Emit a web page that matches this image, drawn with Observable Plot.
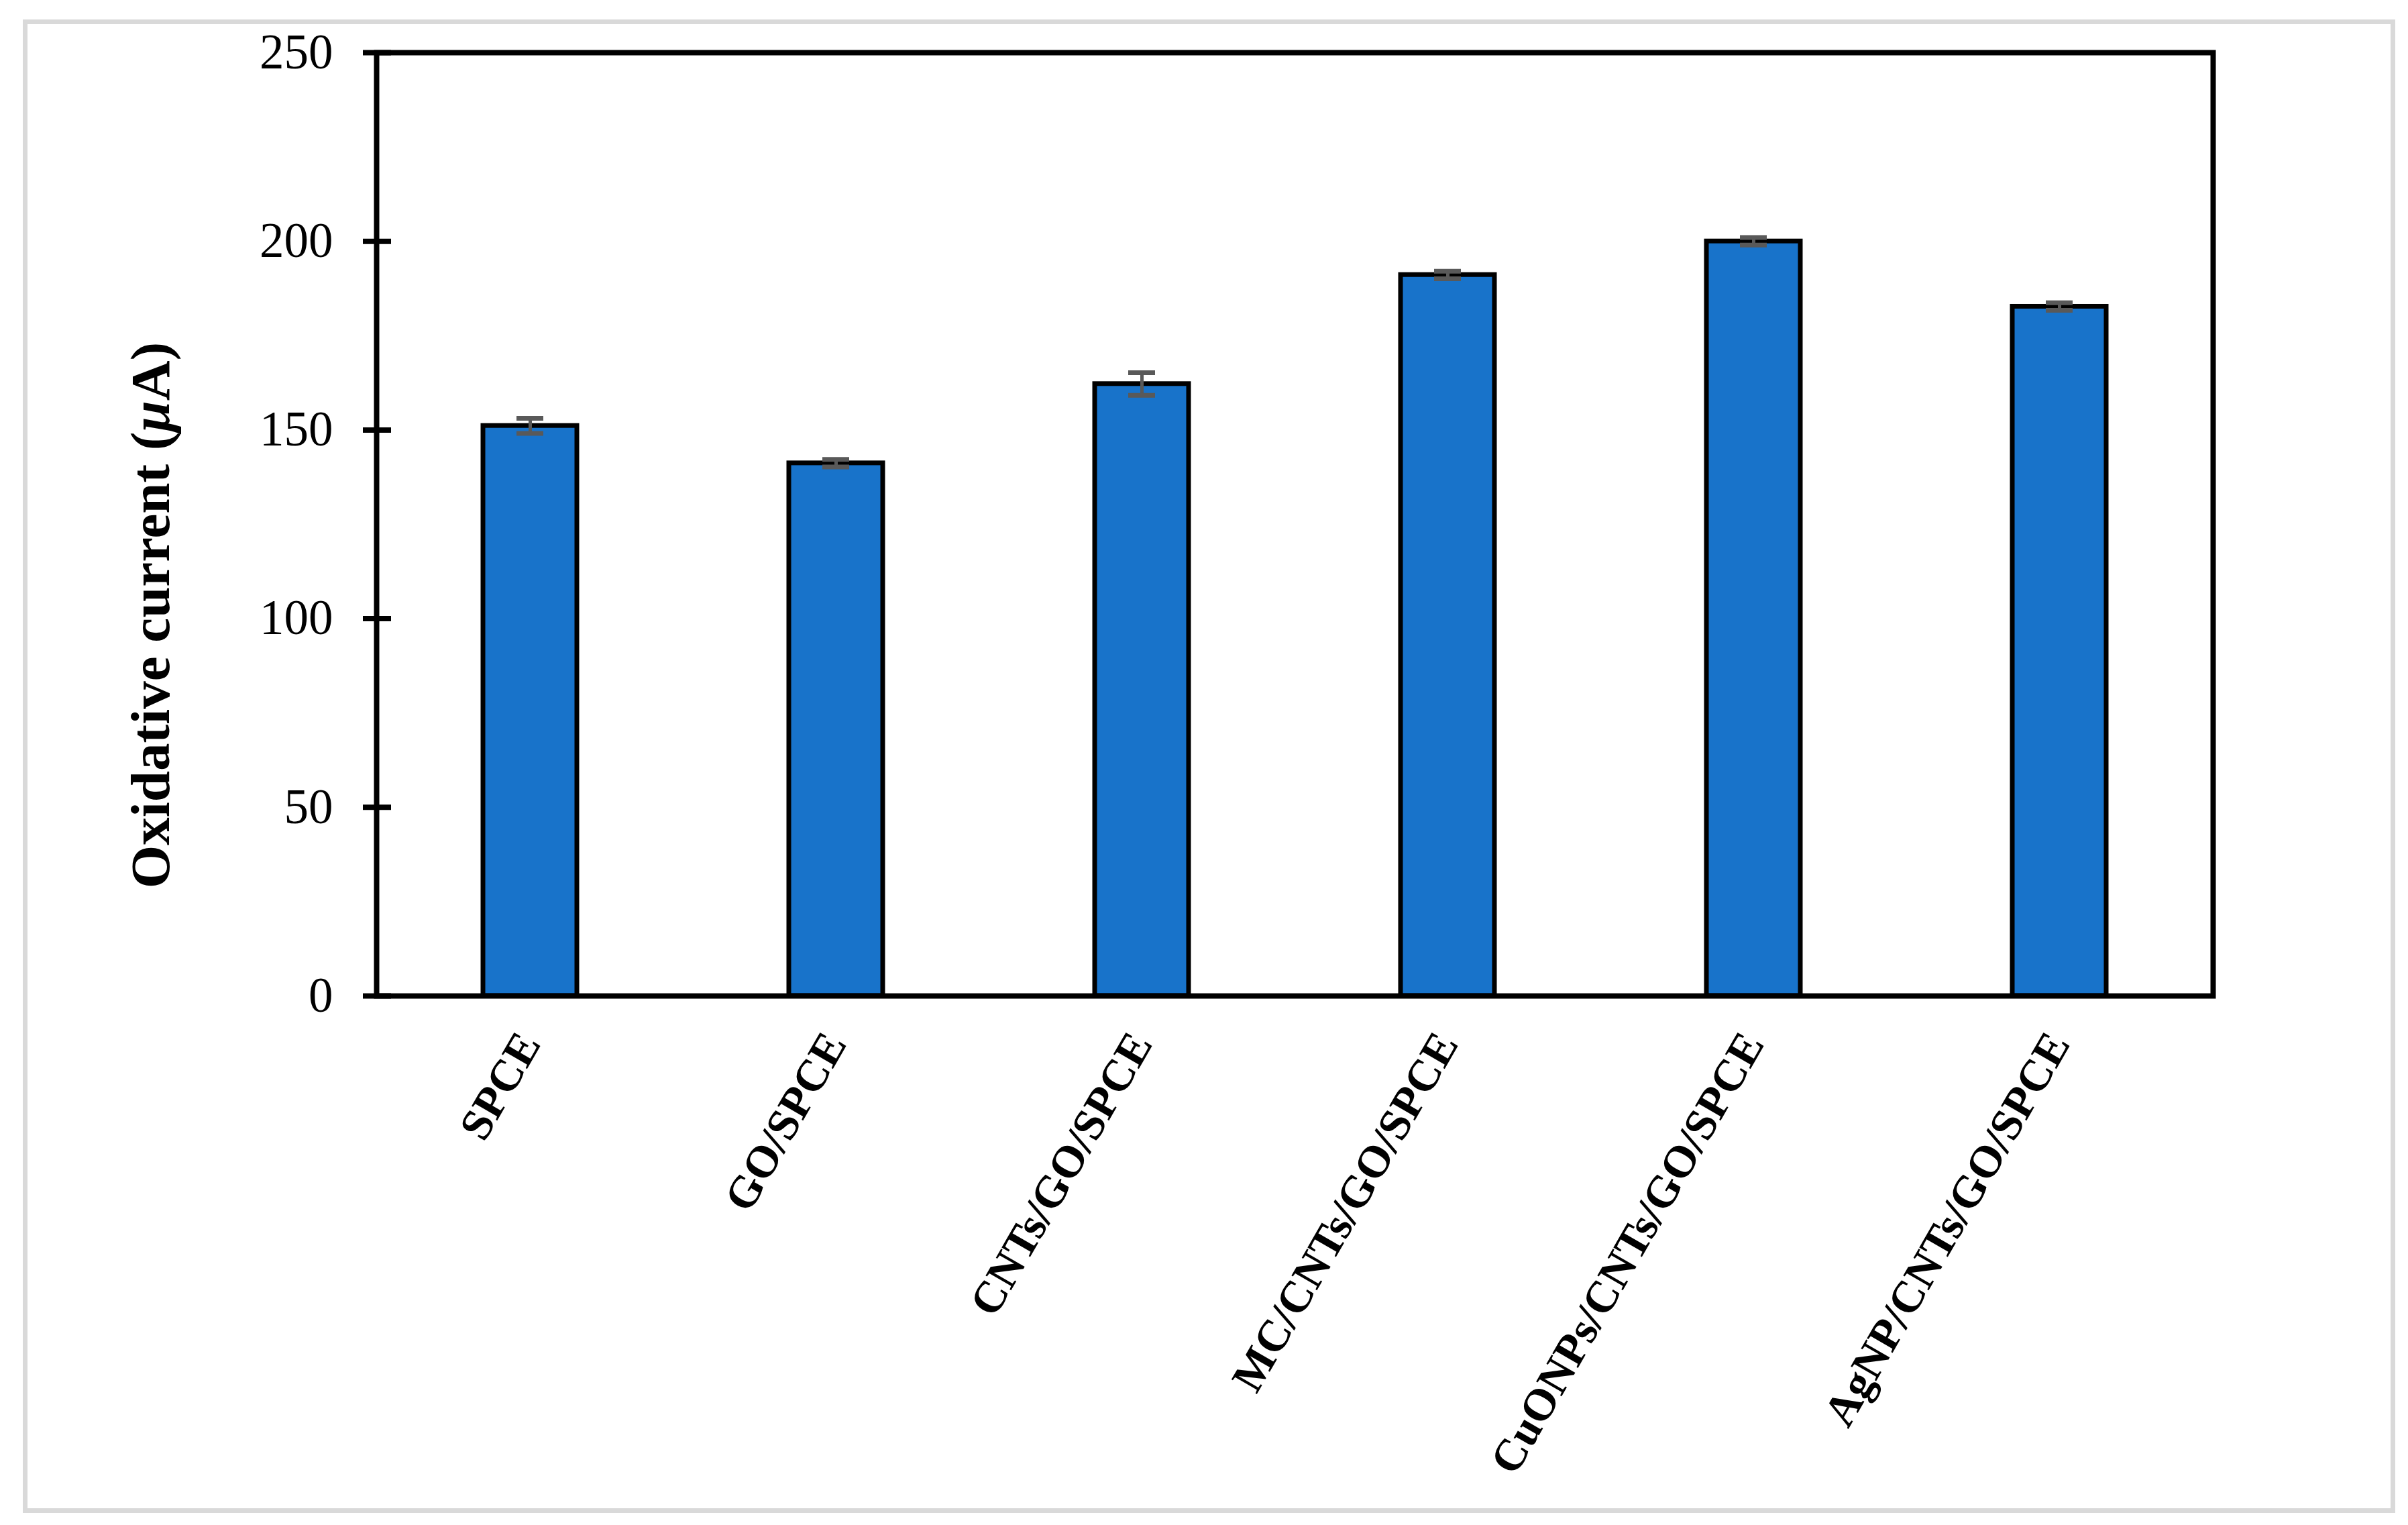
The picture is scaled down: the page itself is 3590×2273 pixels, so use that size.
<!DOCTYPE html>
<html><head><meta charset="utf-8">
<script src="https://cdn.jsdelivr.net/npm/d3@7"></script>
<script src="https://cdn.jsdelivr.net/npm/@observablehq/plot@0.6"></script>
<style>
html,body{margin:0;padding:0;background:#fff;}
#wrap{position:relative;width:3590px;height:2273px;overflow:hidden;background:#fff;}
#wrap svg{position:absolute;left:0;top:0;}
#border{position:absolute;left:34px;top:29px;width:3537px;height:2226px;box-sizing:border-box;border:7px solid #d9d9d9;pointer-events:none;}
</style></head><body>
<div id="wrap"><div id="border"></div></div>
<script>
const categories = ["SPCE", "GO/SPCE", "CNTs/GO/SPCE", "MC/CNTs/GO/SPCE", "CuONPs/CNTs/GO/SPCE", "AgNP/CNTs/GO/SPCE"];
const values = [151.1, 141.2, 162.2, 191.1, 200.0, 182.7];
const errors = [2, 1, 3, 1, 1, 1];
const yTicks = [0, 50, 100, 150, 200, 250];
const yTitleParts = [["Oxidative current (", false], ["\u03bc", true], ["A)", false]];

const data = categories.map((c, i) => ({category: c, value: values[i], err: errors[i]}));

const chart = Plot.plot({
  width: 3590, height: 2273,
  marginLeft: 561, marginRight: 291, marginTop: 78, marginBottom: 789,
  style: {fontFamily: '"Liberation Serif", "Times New Roman", serif', background: "white", color: "black", overflow: "visible"},
  x: {domain: categories, paddingInner: 0.693, paddingOuter: 0.3465, label: null},
  y: {domain: [0, 250], label: null},
  marks: [
    Plot.barY(data, {x: "category", y: "value", fill: "#1873ca", stroke: "black", strokeWidth: 7}),
    Plot.ruleX(data, {x: "category", y1: d => d.value - d.err, y2: d => d.value + d.err, stroke: "#595959", strokeWidth: 5}),
    Plot.tickY(data, {x: "category", y: d => d.value - d.err, stroke: "#595959", strokeWidth: 7, insetLeft: 50, insetRight: 50}),
    Plot.tickY(data, {x: "category", y: d => d.value + d.err, stroke: "#595959", strokeWidth: 7, insetLeft: 50, insetRight: 50}),
    Plot.frame({stroke: "black", strokeWidth: 8}),
    Plot.axisY(yTicks, {tickSize: 42, dx: 22, tickPadding: 45, strokeWidth: 8, fontSize: 73, label: null}),
    Plot.axisX({tickSize: 0, tickPadding: 71, tickRotate: -60, textAnchor: "end", lineAnchor: "bottom", fontWeight: "bold", fontSize: 67, dx: 17, label: null})
  ]
});

const svg = d3.select(chart);
const t = svg.append("text")
  .attr("transform", "translate(252,917) rotate(-90)")
  .attr("text-anchor", "middle")
  .attr("font-weight", "bold")
  .attr("font-size", 83)
  .attr("fill", "black");
yTitleParts.forEach(([s, it]) => {
  const sp = t.append("tspan").text(s);
  if (it) sp.attr("font-style", "italic");
});

document.getElementById("wrap").prepend(chart);
</script>
</body></html>
